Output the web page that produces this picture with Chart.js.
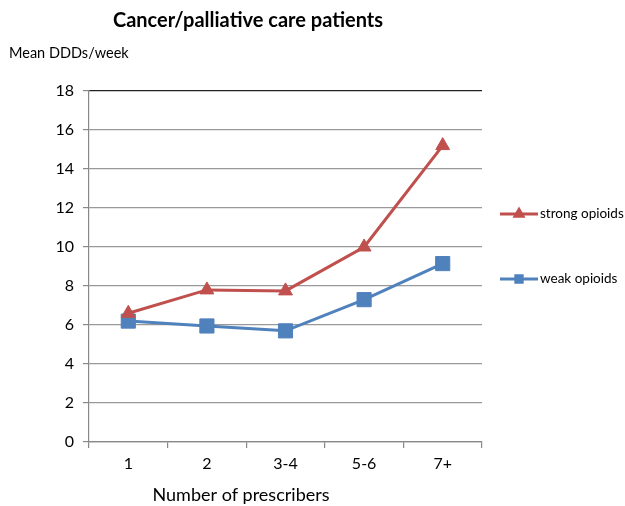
<!DOCTYPE html>
<html>
<head>
<meta charset="utf-8">
<script src="https://cdn.jsdelivr.net/npm/chart.js@4/dist/chart.umd.min.js"></script>
<style>
  html, body { margin: 0; padding: 0; background: #fff; }
  #wrap { width: 625px; height: 506px; }
</style>
</head>
<body>
<div id="wrap"><canvas id="c" width="625" height="506"></canvas></div>
<script>
// Number of prescribers (categories)
const categories = ['1', '2', '3-4', '5-6', '7+'];
// Mean DDDs per week
const strongOpioids = [6.6, 7.8, 7.75, 10.0, 15.2];
const weakOpioids = [6.2, 5.95, 5.7, 7.3, 9.15];
const yTicks = [0, 2, 4, 6, 8, 10, 12, 14, 16, 18];

const chartTitle = 'Cancer/palliative care patients';
const yTitle = 'Mean DDDs/week';
const xTitle = 'Number of prescribers';

const FONT = 'Lato, "Open Sans", sans-serif';
const RED = '#C0504D';
const BLUE = '#4F81BD';

// Titles and the side legend
const decorations = {
  id: 'decorations',
  afterDraw(chart) {
    const ctx = chart.ctx;
    ctx.save();
    ctx.fillStyle = '#000';
    ctx.textBaseline = 'middle';
    ctx.textAlign = 'center';
    ctx.font = 'bold 20px ' + FONT;
    ctx.fillText(chartTitle, 248, 21);
    ctx.textAlign = 'left';
    ctx.font = '14.5px ' + FONT;
    ctx.fillText(yTitle, 9, 53);
    ctx.textAlign = 'center';
    ctx.font = '18px ' + FONT;
    ctx.fillText(xTitle, 241, 495);

    // legend entries
    const entries = [
      { y: 214, ds: chart.data.datasets[0] },
      { y: 279, ds: chart.data.datasets[1] }
    ];
    entries.forEach(e => {
      ctx.strokeStyle = e.ds.borderColor;
      ctx.lineWidth = 3;
      ctx.beginPath();
      ctx.moveTo(500, e.y);
      ctx.lineTo(538, e.y);
      ctx.stroke();
      Chart.helpers.drawPoint(ctx, {
        pointStyle: e.ds.pointStyle,
        radius: 4.5,
        borderWidth: 1
      }, 519, e.y);
      ctx.fillStyle = e.ds.borderColor;
      ctx.fill();
      ctx.fillStyle = '#000';
      ctx.font = '13.5px ' + FONT;
      ctx.textAlign = 'left';
      ctx.fillText(e.ds.label, 540, e.y);
    });
    ctx.restore();
  }
};

new Chart(document.getElementById('c'), {
  type: 'line',
  data: {
    labels: categories,
    datasets: [
      {
        label: 'strong opioids',
        data: strongOpioids,
        borderColor: RED,
        backgroundColor: RED,
        borderWidth: 3,
        pointStyle: 'triangle',
        pointRadius: 8,
        pointBorderWidth: 1,
        pointBorderColor: RED,
        tension: 0
      },
      {
        label: 'weak opioids',
        data: weakOpioids,
        borderColor: BLUE,
        backgroundColor: BLUE,
        borderWidth: 3,
        pointStyle: 'rect',
        pointRadius: 10,
        pointBorderWidth: 1,
        pointBorderColor: BLUE,
        tension: 0
      }
    ]
  },
  options: {
    responsive: false,
    animation: false,
    layout: { padding: { left: 0, top: 91, right: 143, bottom: 0 } },
    plugins: {
      legend: { display: false },
      title: { display: false },
      tooltip: { enabled: false }
    },
    scales: {
      x: {
        offset: true,
        afterFit(scale) { scale.height = 64; },
        grid: {
          offset: true,
          drawOnChartArea: true,
          color: ctx => ctx.index === categories.length ? '#555' : 'rgba(0,0,0,0)',
          tickColor: '#888',
          tickLength: 6,
          lineWidth: 1.2
        },
        border: { display: true, color: '#888', width: 1.2 },
        ticks: {
          color: '#000',
          font: { family: FONT, size: 16 },
          padding: 6
        }
      },
      y: {
        min: 0,
        max: 18,
        afterFit(scale) { scale.width = 89; },
        afterBuildTicks(scale) { scale.ticks = yTicks.map(v => ({ value: v })); },
        grid: {
          color: ctx => ctx.tick && ctx.tick.value === 18 ? '#222' : '#999',
          tickColor: '#888',
          tickLength: 6,
          lineWidth: 1.2
        },
        border: { display: true, color: '#888', width: 1.2 },
        ticks: {
          color: '#000',
          font: { family: FONT, size: 16 },
          padding: 9
        }
      }
    }
  },
  plugins: [decorations]
});
</script>
</body>
</html>
